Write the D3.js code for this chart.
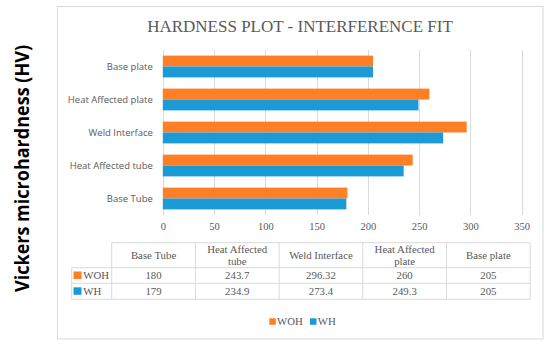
<!DOCTYPE html>
<html><head><meta charset="utf-8">
<script src="https://cdn.jsdelivr.net/npm/d3@7"></script>
<style>body{margin:0;background:#fff}svg{display:block}</style>
</head><body>
<script>
const categories = ["Base Tube","Heat Affected tube","Weld Interface","Heat Affected plate","Base plate"];
const headerLabels = [["Base Tube"],["Heat Affected","tube"],["Weld Interface"],["Heat Affected","plate"],["Base plate"]];
const seriesNames = ["WOH","WH"];
const woh = [180,243.7,296.32,260,205];
const wh = [179,234.9,273.4,249.3,205];
const tableText = [["180","243.7","296.32","260","205"],["179","234.9","273.4","249.3","205"]];
const xTicks = [0,50,100,150,200,250,300,350];
const colors = ["#FF7F27","#1A9BD8"];

const W=550,H=347;
const svg=d3.select("body").append("svg").attr("width",W).attr("height",H);
svg.append("rect").attr("x",57.5).attr("y",6.5).attr("width",485.5).attr("height",332.5).attr("fill","#fff").attr("stroke","#d9d9d9");

svg.append("text").attr("x",300).attr("y",32).attr("text-anchor","middle")
  .attr("font-family","Liberation Serif, serif").attr("font-size",17).attr("fill","#595959")
  .text("HARDNESS PLOT - INTERFERENCE FIT");

svg.append("text").attr("transform","translate(29,168.5) rotate(-90)").attr("text-anchor","middle")
  .attr("font-family","Open Sans, sans-serif").attr("font-weight","bold").attr("font-size",19).attr("fill","#000")
  .attr("textLength",247).attr("lengthAdjust","spacingAndGlyphs")
  .text("Vickers microhardness (HV)");

const x=d3.scaleLinear().domain([0,350]).range([162.8,521.7]);
const yOrder = categories.slice().reverse();
const y=d3.scaleBand().domain(yOrder).range([50,215]).paddingInner(0.34).paddingOuter(0.17);
const ySub=d3.scaleBand().domain(seriesNames).range([0,y.bandwidth()]);

const grid=svg.append("g");
grid.selectAll("line").data(xTicks).join("line")
  .attr("x1",d=>Math.round(x(d))+0.5).attr("x2",d=>Math.round(x(d))+0.5)
  .attr("y1",50).attr("y2",215).attr("stroke","#d9d9d9");

const data = categories.map((c,i)=>({c,vals:[woh[i],wh[i]]}));
const g=svg.append("g");
data.forEach(d=>{
  seriesNames.forEach((s,j)=>{
    g.append("rect").attr("x",x(0)).attr("y",y(d.c)+ySub(s)).attr("width",x(d.vals[j])-x(0))
     .attr("height",ySub.bandwidth()).attr("fill",colors[j]);
  });
});

const yAxis=d3.axisLeft(y).tickSize(0).tickPadding(10);
const ya=svg.append("g").attr("transform",`translate(${x(0)},0)`).call(yAxis);
ya.select(".domain").remove();
ya.selectAll("text").attr("font-family","Open Sans, sans-serif").attr("font-size",9.5).attr("fill","#595959");

const xAxis=d3.axisBottom(x).tickValues(xTicks).tickSize(0).tickPadding(8);
const xa=svg.append("g").attr("transform","translate(0,215)").call(xAxis);
xa.select(".domain").remove();
xa.selectAll("text").attr("font-family","Liberation Serif, serif").attr("font-size",10.5).attr("fill","#595959");

// table
const colX=d3.range(6).map(i=>111.7+i*83.7);
const rowY=[242.7,267.7,283.3,299.3];
const legL=71.7;
const tg=svg.append("g");
const st="#d9d9d9";
function hl(x1,x2,yy){tg.append("line").attr("x1",x1).attr("x2",x2).attr("y1",yy).attr("y2",yy).attr("stroke",st);}
function vl(xx,y1,y2){tg.append("line").attr("x1",xx).attr("x2",xx).attr("y1",y1).attr("y2",y2).attr("stroke",st);}
hl(colX[0],colX[5],rowY[0]);
hl(legL,colX[5],rowY[1]);hl(legL,colX[5],rowY[2]);hl(legL,colX[5],rowY[3]);
vl(legL,rowY[1],rowY[3]);
colX.forEach(cx=>vl(cx,rowY[0],rowY[3]));
const tf="Liberation Serif, serif";
const fs=10.8;
headerLabels.forEach((lines,i)=>{
  const cx=(colX[i]+colX[i+1])/2, cy=(rowY[0]+rowY[1])/2;
  const t=tg.append("text").attr("text-anchor","middle").attr("font-family",tf).attr("font-size",fs).attr("fill","#595959");
  lines.forEach((l,k)=>t.append("tspan").attr("x",cx).attr("y",cy+3.8+(k-(lines.length-1)/2)*11.5).text(l));
});
seriesNames.forEach((s,r)=>{
  const cy=(rowY[r+1]+rowY[r+2])/2;
  tg.append("rect").attr("x",legL+1.8).attr("y",cy-4).attr("width",8).attr("height",7.5).attr("fill",colors[r]);
  tg.append("text").attr("x",legL+11.5).attr("y",cy+3.8).attr("font-family",tf).attr("font-size",fs).attr("fill","#595959").text(s);
  tableText[r].forEach((v,i)=>{
    tg.append("text").attr("x",(colX[i]+colX[i+1])/2).attr("y",cy+3.8).attr("text-anchor","middle")
      .attr("font-family",tf).attr("font-size",fs).attr("fill","#595959").text(v);
  });
});

// legend
const lg=svg.append("g");
const legX=[269.3,310];
seriesNames.forEach((s,i)=>{
  lg.append("rect").attr("x",legX[i]).attr("y",318.3).attr("width",6.5).attr("height",6.5).attr("fill",colors[i]);
  lg.append("text").attr("x",legX[i]+7.7).attr("y",325).attr("font-family",tf).attr("font-size",fs).attr("fill","#595959").text(s);
});
</script>
</body></html>
